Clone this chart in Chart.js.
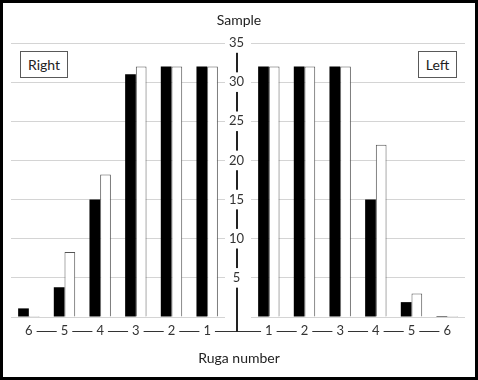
<!DOCTYPE html>
<html>
<head>
<meta charset="utf-8">
<script src="https://cdn.jsdelivr.net/npm/chart.js@4/dist/chart.umd.min.js"></script>
<style>
  html, body { margin: 0; padding: 0; background: #fff; }
  #frame { position: relative; width: 478px; height: 380px; box-sizing: border-box; border: 3px solid #000; overflow: hidden; font-family: Lato, "Open Sans", sans-serif; color: #222; }
  #wrapL, #wrapR { position: absolute; left: -3px; top: -3px; width: 478px; height: 380px; }
  .lbl { position: absolute; font-size: 14px; white-space: nowrap; }
  .box { position: absolute; border: 1px solid #595959; font-size: 14px; text-align: center; box-sizing: border-box; background: #fff; }
</style>
</head>
<body>
<div id="frame">
  <div id="wrapL"><canvas id="cL" width="478" height="380"></canvas></div>
  <div id="wrapR"><canvas id="cR" width="478" height="380"></canvas></div>
  <div class="lbl" id="ytitle" style="left:0; width:472px; top:8px; text-align:center;">Sample</div>
  <div class="lbl" id="xtitle" style="left:0; width:472px; top:346px; text-align:center;">Ruga number</div>
  <div class="box" style="left:17px; top:48px; width:48px; height:27px; line-height:25px;">Right</div>
  <div class="box" style="left:415px; top:48px; width:39px; height:27px; line-height:25px;">Left</div>
</div>
<script>
// ---- data ----
const rightSideCategories = ['6', '5', '4', '3', '2', '1'];
const rightSideBlack = [1.1, 3.8, 15, 31, 32, 32];
const rightSideWhite = [0, 8.3, 18.2, 32, 32, 32];

const leftSideCategories = ['1', '2', '3', '4', '5', '6'];
const leftSideBlack = [32, 32, 32, 15, 1.9, 0];
const leftSideWhite = [32, 32, 32, 22, 3, 0];

const yTickMin = 0, yTickMax = 35, yTickStep = 5;

// ---- layout constants ----
const CENTER_X = 237;
const AREA_TOP = 43, AREA_BOTTOM = 317;
const LEFT_AREA = [11, 225], RIGHT_AREA = [251, 465];
const W = 478, H = 380;
const X_AXIS_H = 30;
const FONT = { family: 'Lato, "Open Sans", sans-serif', size: 13 };
const XLABEL_PAD = 6;

function catLineY(scale) { return scale.top + XLABEL_PAD + FONT.size * 1.2 / 2; }

const lineDecor = (side) => ({
  id: 'decor' + side,
  beforeDraw(chart) {
    const ctx = chart.ctx;
    const xs = chart.scales.x, ys = chart.scales.y;
    const ly = Math.round(catLineY(xs)) + 0.5;
    ctx.save();
    ctx.strokeStyle = '#333';
    ctx.lineWidth = 1;
    ctx.beginPath();
    if (side === 'L') {
      ctx.moveTo(xs.getPixelForValue(0), ly);
      ctx.lineTo(CENTER_X, ly);
    } else {
      ctx.moveTo(CENTER_X, ly);
      ctx.lineTo(xs.getPixelForValue(xs.getLabels().length - 1), ly);
    }
    ctx.stroke();
    if (side === 'R') {
      ctx.lineWidth = 2;
      ctx.strokeStyle = '#222';
      ctx.beginPath();
      ctx.moveTo(CENTER_X, ys.getPixelForValue(yTickMax));
      ctx.lineTo(CENTER_X, ly + 0.5);
      ctx.stroke();
    }
    ctx.restore();
  }
});

function makeChart(id, side, cats, black, white) {
  const area = side === 'L' ? LEFT_AREA : RIGHT_AREA;
  const yWidth = side === 'L' ? 0 : 28;
  return new Chart(document.getElementById(id), {
    type: 'bar',
    data: {
      labels: cats,
      datasets: [
        { data: black, backgroundColor: '#000', borderColor: '#000', borderWidth: 0, minBarLength: 1 },
        { data: white, backgroundColor: '#fff', borderColor: '#555', borderWidth: 1, minBarLength: 1 }
      ]
    },
    options: {
      responsive: false,
      animation: false,
      devicePixelRatio: 1,
      categoryPercentage: 0.6,
      barPercentage: 1,
      layout: { padding: { left: area[0] - yWidth, right: W - area[1], top: AREA_TOP, bottom: H - AREA_BOTTOM - X_AXIS_H } },
      plugins: { legend: { display: false }, tooltip: { enabled: false } },
      scales: {
        x: {
          type: 'category',
          grid: { display: false, drawTicks: false },
          border: { display: false },
          afterFit(s) { s.height = X_AXIS_H; },
          ticks: {
            color: '#333', font: FONT, padding: XLABEL_PAD, maxRotation: 0, autoSkip: false,
            showLabelBackdrop: true, backdropColor: '#fff', backdropPadding: { x: 4, y: 1 }
          }
        },
        y: {
          position: 'left',
          min: yTickMin, max: yTickMax,
          grid: { color: '#d4d4d4', lineWidth: 1, drawTicks: false },
          border: { display: false },
          afterFit(s) { s.width = yWidth; },
          ticks: {
            display: side === 'R',
            stepSize: yTickStep,
            color: '#333', font: FONT, padding: 7, crossAlign: 'center',
            callback: (v) => v === 0 ? '' : String(v),
            showLabelBackdrop: true,
            backdropColor: (c) => (c.tick && c.tick.value === 0) ? 'rgba(0,0,0,0)' : '#fff',
            backdropPadding: { x: 3, y: 2 }
          }
        }
      }
    },
    plugins: [lineDecor(side)]
  });
}

makeChart('cL', 'L', rightSideCategories, rightSideBlack, rightSideWhite);
makeChart('cR', 'R', leftSideCategories, leftSideBlack, leftSideWhite);
</script>
</body>
</html>
